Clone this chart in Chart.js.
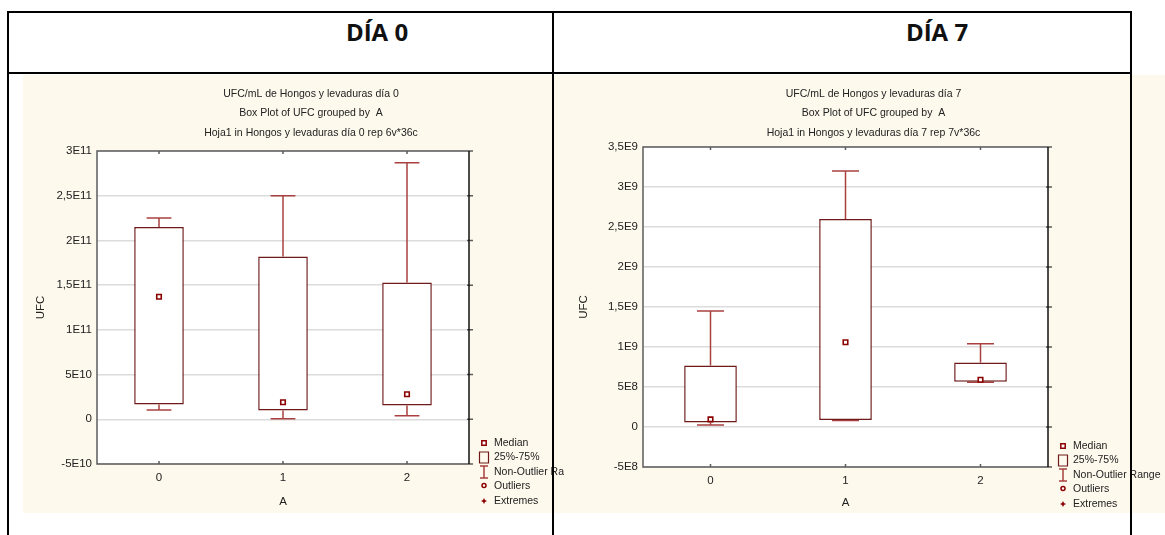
<!DOCTYPE html>
<html lang="es">
<head>
<meta charset="utf-8">
<title>UFC/mL de Hongos y levaduras</title>
<script src="https://cdn.jsdelivr.net/npm/chart.js@4"></script>
<style>
  body { margin: 0; background: #fff; }
  .sheet { position: relative; width: 1165px; height: 535px; overflow: hidden; background: #fff; }
  .rule { position: absolute; background: #000; z-index: 3; }
  .day { position: absolute; top: 20px; width: 200px; text-align: center; font: bold 24px/24px 'Open Sans', sans-serif; color: #111; z-index: 3; }
  canvas { position: absolute; top: 75px; background: #fef9ed; }
  #chart-day0 { left: 23px; z-index: 2; }
  #chart-day7 { left: 555px; z-index: 1; }
</style>
</head>
<body>
<div class="sheet">
  <div class="rule" style="left: 7px; top: 11px; width: 1125px; height: 2px"></div>
  <div class="rule" style="left: 7px; top: 72px; width: 1125px; height: 2px"></div>
  <div class="rule" style="left: 7px; top: 11px; width: 2px; height: 524px"></div>
  <div class="rule" style="left: 552px; top: 11px; width: 2px; height: 524px"></div>
  <div class="rule" style="left: 1130px; top: 11px; width: 2px; height: 524px"></div>
  <div class="day" style="left: 277px">DÍA 0</div>
  <div class="day" style="left: 837px">DÍA 7</div>
  <canvas id="chart-day0" width="541" height="438"></canvas>
  <canvas id="chart-day7" width="610" height="438"></canvas>
</div>
<script>
const categories = ['0', '1', '2']
const legendLabels = ['Median', '25%-75%', 'Non-Outlier Range', 'Outliers', 'Extremes']

// día 0
const day0Min = [1.05e10, 5e8, 4e9]
const day0Q1 = [1.65e10, 9.7e9, 1.55e10]
const day0Median = [1.37e11, 1.9e10, 2.8e10]
const day0Q3 = [2.15e11, 1.82e11, 1.53e11]
const day0Max = [2.25e11, 2.5e11, 2.87e11]
const day0TickValues = [-5e10, 0, 5e10, 1e11, 1.5e11, 2e11, 2.5e11, 3e11]
const day0TickLabels = ['-5E10', '0', '5E10', '1E11', '1,5E11', '2E11', '2,5E11', '3E11']
const day0Title = [
  'UFC/mL de Hongos y levaduras día 0',
  'Box Plot of UFC grouped by  A',
  'Hoja1 in Hongos y levaduras día 0 rep 6v*36c',
]

// día 7
const day7Min = [2.5e7, 8e7, 5.6e8]
const day7Q1 = [5.5e7, 8.8e7, 5.65e8]
const day7Median = [9.5e7, 1.06e9, 5.9e8]
const day7Q3 = [7.7e8, 2.6e9, 8.05e8]
const day7Max = [1.45e9, 3.2e9, 1.04e9]
const day7TickValues = [-5e8, 0, 5e8, 1e9, 1.5e9, 2e9, 2.5e9, 3e9, 3.5e9]
const day7TickLabels = ['-5E8', '0', '5E8', '1E9', '1,5E9', '2E9', '2,5E9', '3E9', '3,5E9']
const day7Title = [
  'UFC/mL de Hongos y levaduras día 7',
  'Box Plot of UFC grouped by  A',
  'Hoja1 in Hongos y levaduras día 7 rep 7v*36c',
]

const FONT = '"Liberation Sans", Arial, sans-serif'
const TEXT = '#222'
const BOX = '#6e1a1a'
const WHISKER = '#a8413f'
const MARK = '#8b0000'

// whiskers, plot frame, titles and the Statistica-style legend
const statisticaBoxPlot = {
  id: 'statisticaBoxPlot',
  beforeDraw(chart) {
    const { ctx, chartArea: a } = chart
    ctx.save()
    ctx.fillStyle = '#fff'
    ctx.fillRect(a.left, a.top, a.right - a.left, a.bottom - a.top)
    ctx.restore()
  },
  beforeDatasetsDraw(chart, args, opts) {
    const { ctx, scales: { x, y } } = chart
    const half = (x.getPixelForValue(1) - x.getPixelForValue(0)) * 0.1
    ctx.save()
    ctx.strokeStyle = WHISKER
    ctx.lineWidth = 1.5
    opts.min.forEach((lo, i) => {
      const cx = x.getPixelForValue(i)
      const yMax = y.getPixelForValue(opts.max[i])
      const yMin = y.getPixelForValue(lo)
      ctx.beginPath()
      ctx.moveTo(cx, yMax)
      ctx.lineTo(cx, y.getPixelForValue(opts.q3[i]))
      ctx.moveTo(cx, y.getPixelForValue(opts.q1[i]))
      ctx.lineTo(cx, yMin)
      ctx.moveTo(cx - half, yMax)
      ctx.lineTo(cx + half, yMax)
      ctx.moveTo(cx - half, yMin)
      ctx.lineTo(cx + half, yMin)
      ctx.stroke()
    })
    ctx.restore()
  },
  afterDraw(chart, args, opts) {
    const { ctx, chartArea: a, scales: { x, y } } = chart
    ctx.save()

    // frame with small ticks
    ctx.lineWidth = 1.5
    ctx.strokeStyle = '#5c5c5c'
    ctx.beginPath()
    ctx.moveTo(a.right, a.bottom)
    ctx.lineTo(a.left, a.bottom)
    ctx.lineTo(a.left, a.top)
    ctx.lineTo(a.right, a.top)
    categories.forEach((c, i) => {
      const px = x.getPixelForValue(i)
      ctx.moveTo(px, a.top)
      ctx.lineTo(px, a.top + 3)
      ctx.moveTo(px, a.bottom)
      ctx.lineTo(px, a.bottom - 3)
    })
    y.ticks.forEach((t) => {
      const py = y.getPixelForValue(t.value)
      ctx.moveTo(a.right - 2, py)
      ctx.lineTo(a.right + 4, py)
    })
    ctx.stroke()
    ctx.strokeStyle = '#111'
    ctx.beginPath()
    ctx.moveTo(a.right, a.top)
    ctx.lineTo(a.right, a.bottom)
    ctx.stroke()

    // titles
    ctx.fillStyle = TEXT
    ctx.font = `10.5px ${FONT}`
    ctx.textAlign = 'center'
    ctx.textBaseline = 'middle'
    const tx = (a.left + a.right) / 2 + 28
    opts.title.forEach((line, i) => ctx.fillText(line, tx, 19 + i * 19.5))

    // legend
    const sx = a.right + 15
    const y0 = a.bottom - 21
    ctx.textAlign = 'left'
    legendLabels.forEach((label, i) => {
      const sy = y0 + i * 14.5
      ctx.strokeStyle = MARK
      ctx.fillStyle = MARK
      ctx.lineWidth = 1.5
      ctx.beginPath()
      if (i === 0) {
        ctx.fillStyle = '#fff'
        ctx.rect(sx - 2.2, sy - 2.2, 4.4, 4.4)
        ctx.fill()
        ctx.stroke()
      } else if (i === 1) {
        ctx.strokeStyle = BOX
        ctx.lineWidth = 1.2
        ctx.rect(sx - 4.5, sy - 5.5, 9, 11)
        ctx.stroke()
      } else if (i === 2) {
        ctx.strokeStyle = WHISKER
        ctx.moveTo(sx - 4, sy - 6)
        ctx.lineTo(sx + 4, sy - 6)
        ctx.moveTo(sx, sy - 6)
        ctx.lineTo(sx, sy + 6)
        ctx.moveTo(sx - 4, sy + 6)
        ctx.lineTo(sx + 4, sy + 6)
        ctx.stroke()
      } else if (i === 3) {
        ctx.fillStyle = '#fff'
        ctx.arc(sx, sy - 1, 2, 0, Math.PI * 2)
        ctx.fill()
        ctx.stroke()
      } else {
        ctx.moveTo(sx, sy - 3)
        ctx.lineTo(sx + 1, sy - 1)
        ctx.lineTo(sx + 3, sy)
        ctx.lineTo(sx + 1, sy + 1)
        ctx.lineTo(sx, sy + 3)
        ctx.lineTo(sx - 1, sy + 1)
        ctx.lineTo(sx - 3, sy)
        ctx.lineTo(sx - 1, sy - 1)
        ctx.closePath()
        ctx.fill()
      }
      ctx.fillStyle = TEXT
      ctx.fillText(label, sx + 10, sy)
    })
    ctx.restore()
  },
}

function boxPlot(canvas, data, layout) {
  return new Chart(canvas, {
    type: 'bar',
    data: {
      labels: categories,
      datasets: [
        {
          type: 'line',
          order: 0,
          data: data.median,
          showLine: false,
          pointStyle: 'rect',
          pointRadius: 3.2,
          pointBorderWidth: 1.6,
          pointBackgroundColor: '#fff',
          pointBorderColor: MARK,
        },
        {
          order: 1,
          data: data.q1.map((lo, i) => [lo, data.q3[i]]),
          backgroundColor: '#fff',
          borderColor: BOX,
          borderWidth: 1.5,
          borderSkipped: false,
          categoryPercentage: 1,
          barPercentage: layout.boxWidth,
        },
      ],
    },
    options: {
      responsive: false,
      animation: false,
      devicePixelRatio: 1,
      layout: { padding: layout.padding },
      plugins: {
        legend: { display: false },
        tooltip: { enabled: false },
        statisticaBoxPlot: { min: data.min, max: data.max, q1: data.q1, q3: data.q3, title: data.title },
      },
      scales: {
        x: {
          grid: { display: false, drawTicks: false },
          border: { display: false },
          ticks: { color: TEXT, padding: 7, font: { family: FONT, size: 11.5 } },
          title: { display: true, text: 'A', color: TEXT, padding: { top: 0, bottom: 2 }, font: { family: FONT, size: 11.5 } },
          afterFit: (scale) => { scale.height = layout.xHeight },
        },
        y: {
          min: data.ticks[0],
          max: data.ticks[data.ticks.length - 1],
          grid: { color: '#dcdcdc', lineWidth: 1.5, drawTicks: false },
          border: { display: false },
          afterBuildTicks: (scale) => { scale.ticks = data.ticks.map((value) => ({ value })) },
          ticks: {
            color: TEXT,
            padding: 5,
            font: { family: FONT, size: 11.5 },
            callback: (value, index) => data.tickLabels[index],
          },
          title: { display: true, text: 'UFC', color: TEXT, padding: { top: 6, bottom: 0 }, font: { family: FONT, size: 11.5 } },
          afterFit: (scale) => { scale.width = layout.yWidth },
        },
      },
    },
    plugins: [statisticaBoxPlot],
  })
}

boxPlot(document.getElementById('chart-day0'), {
  min: day0Min, q1: day0Q1, median: day0Median, q3: day0Q3, max: day0Max,
  ticks: day0TickValues, tickLabels: day0TickLabels, title: day0Title,
}, { padding: { top: 76, right: 95, bottom: 2, left: 5 }, yWidth: 69, xHeight: 47, boxWidth: 0.4 })

boxPlot(document.getElementById('chart-day7'), {
  min: day7Min, q1: day7Q1, median: day7Median, q3: day7Q3, max: day7Max,
  ticks: day7TickValues, tickLabels: day7TickLabels, title: day7Title,
}, { padding: { top: 72, right: 117, bottom: 1, left: 16 }, yWidth: 72, xHeight: 45, boxWidth: 0.39 })
</script>
</body>
</html>
